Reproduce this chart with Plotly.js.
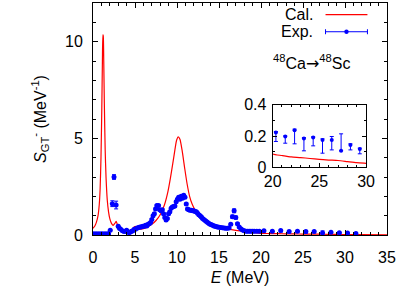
<!DOCTYPE html>
<html><head><meta charset="utf-8">
<script src="https://cdn.plot.ly/plotly-3.0.1.min.js"></script>
<style>html,body{margin:0;padding:0;background:#fff}</style>
</head><body><div id="plot" style="width:415px;height:291px"></div>
<script>
// Calculated strength (Cal.)
const calE = [0,0.2,0.4,0.6,0.75,0.85,0.95,1.05,1.12,1.18,1.22,1.28,1.35,1.45,1.55,1.7,1.85,2.0,2.2,2.4,2.6,2.75,2.9,3.1,3.3,3.6,4.0,4.4,4.7,4.9,5.05,5.2,5.5,6.0,6.5,7.0,7.5,8.0,8.5,8.9,9.2,9.5,9.75,9.95,10.15,10.35,10.6,10.9,11.2,11.5,11.8,12.2,12.6,13.0,13.5,14.0,15.0,16.0,17.0,18.0,19.0,20,21,22,23,24,25,26,27,28,29,30,32,35];
const calS = [0.35,0.45,0.65,1.0,1.6,2.4,4.0,6.6,9.0,10.35,10.3,9.0,6.8,4.4,3.0,1.8,1.2,0.85,0.6,0.5,0.6,0.7,0.55,0.38,0.28,0.2,0.16,0.2,0.3,0.42,0.45,0.38,0.3,0.33,0.42,0.55,0.75,1.05,1.55,2.2,2.9,3.7,4.4,4.9,5.08,4.95,4.4,3.5,2.65,2.0,1.6,1.25,1.0,0.85,0.7,0.58,0.42,0.32,0.24,0.18,0.13,0.085,0.075,0.066,0.062,0.056,0.05,0.046,0.043,0.036,0.029,0.025,0.018,0.01];

// Experimental strength (Exp.)
const expE = [0.05,0.15,0.25,0.35,0.45,0.55,0.65,0.75,0.85,0.95,1.05,1.15,1.25,1.35,1.45,1.55,1.65,1.75,1.85,
  2.05,2.3,2.5,2.75,3.0,3.15,3.3,3.5,3.7,3.85,4.0,4.15,4.3,4.45,4.6,4.75,4.9,5.05,5.2,5.35,5.5,5.65,5.8,5.95,6.1,6.25,6.4,6.55,6.7,6.85,
  7.0,7.15,7.3,7.45,7.6,7.8,7.95,8.1,8.25,8.4,8.55,8.7,8.85,9.0,9.15,9.3,9.45,9.6,9.75,9.9,10.05,10.2,10.35,10.5,10.65,10.8,10.95,
  11.1,11.25,11.4,11.55,11.7,11.85,12.0,12.15,12.3,12.45,12.6,12.75,12.9,13.05,13.2,13.35,13.5,13.65,13.8,13.95,14.1,14.25,14.4,14.55,14.7,14.85,
  15.0,15.2,15.4,15.6,15.8,16.0,16.2,16.4,16.6,16.8,17.0,17.2,17.4,17.6,17.8,18.0,18.2,18.4,18.6,18.8,19.0,19.2,19.5,19.8,
  20.35,21.35,22.35,23.35,24.34,25.34,26.33,27.33,28.33,29.33,30.3,31.3];
const expS = [0.05,0.05,0.04,0.05,0.05,0.04,0.05,0.05,0.04,0.05,0.05,0.05,0.04,0.05,0.05,0.04,0.05,0.05,0.05,
  0.25,1.62,3.0,1.55,0.45,0.35,0.3,0.22,0.18,0.2,0.25,0.15,0.12,0.15,0.2,0.22,0.3,0.3,0.35,0.38,0.4,0.42,0.43,0.45,0.45,0.5,0.47,0.55,0.58,0.65,
  0.8,1.0,1.1,1.35,1.52,1.52,1.3,1.25,1.3,1.1,0.9,0.78,0.85,1.1,1.2,1.38,1.45,1.48,1.5,1.72,1.85,1.95,1.85,2.0,1.9,2.05,1.95,
  1.6,1.35,1.3,1.28,1.28,1.25,1.25,1.22,1.2,1.12,1.05,1.0,0.93,0.85,0.8,0.75,0.7,0.65,0.6,0.56,0.53,0.5,0.47,0.45,0.43,0.41,
  0.4,0.39,0.37,0.36,0.35,0.35,0.36,0.55,0.95,1.25,0.9,0.58,0.42,0.32,0.26,0.22,0.2,0.2,0.2,0.2,0.2,0.2,0.19,0.2,
  0.222,0.197,0.237,0.184,0.190,0.175,0.175,0.105,0.143,0.116,0.1,0.08];
const expErrUp = [0.03,0.03,0.03,0.03,0.03,0.03,0.03,0.03,0.03,0.03,0.03,0.03,0.03,0.03,0.03,0.03,0.03,0.03,0.03,
  0.03,0.15,0.12,0.2,0.05,0.03,0.03,0.03,0.03,0.03,0.03,0.03,0.03,0.03,0.03,0.03,0.03,0.03,0.03,0.03,0.03,0.03,0.03,0.03,0.03,0.03,0.03,0.03,0.03,0.03,
  0.05,0.05,0.05,0.05,0.05,0.05,0.05,0.05,0.05,0.05,0.05,0.05,0.05,0.05,0.05,0.05,0.05,0.05,0.05,0.05,0.05,0.05,0.05,0.05,0.05,0.05,0.05,
  0.05,0.05,0.05,0.05,0.05,0.05,0.05,0.05,0.05,0.05,0.05,0.05,0.05,0.05,0.05,0.05,0.05,0.05,0.05,0.05,0.05,0.05,0.05,0.05,0.05,0.05,
  0.03,0.03,0.03,0.03,0.03,0.03,0.03,0.05,0.08,0.1,0.08,0.05,0.03,0.03,0.03,0.03,0.03,0.03,0.03,0.03,0.03,0.03,0.03,0.03,
  0.007,0.004,0.007,0.006,0.005,0.007,0.022,0.109,0.007,0.006,0.01,0.01];
const expErrDown = [0.03,0.03,0.03,0.03,0.03,0.03,0.03,0.03,0.03,0.03,0.03,0.03,0.03,0.03,0.03,0.03,0.03,0.03,0.03,
  0.03,0.15,0.12,0.2,0.05,0.03,0.03,0.03,0.03,0.03,0.03,0.03,0.03,0.03,0.03,0.03,0.03,0.03,0.03,0.03,0.03,0.03,0.03,0.03,0.03,0.03,0.03,0.03,0.03,0.03,
  0.05,0.05,0.05,0.05,0.05,0.05,0.05,0.05,0.05,0.05,0.05,0.05,0.05,0.05,0.05,0.05,0.05,0.05,0.05,0.05,0.05,0.05,0.05,0.05,0.05,0.05,0.05,
  0.05,0.05,0.05,0.05,0.05,0.05,0.05,0.05,0.05,0.05,0.05,0.05,0.05,0.05,0.05,0.05,0.05,0.05,0.05,0.05,0.05,0.05,0.05,0.05,0.05,0.05,
  0.03,0.03,0.03,0.03,0.03,0.03,0.03,0.05,0.08,0.1,0.08,0.05,0.03,0.03,0.03,0.03,0.03,0.03,0.03,0.03,0.03,0.03,0.03,0.03,
  0.057,0.043,0.087,0.079,0.053,0.085,0.064,0.0,0.032,0.030,0.02,0.02];

const xTickVals = [0,5,10,15,20,25,30,35];
const yTickVals = [0,5,10];
const insetXTicks = [20,25,30];
const insetYTicks = [0,0.2,0.4];
const insetYLabels = ['0','0.2','0.4'];

const RED = '#ff0000', BLUE = '#0000ff';
const FONT = 'Liberation Sans, Arial, Helvetica, sans-serif';

function errObj(w){
  return {type:'data', symmetric:false, array:expErrUp, arrayminus:expErrDown, color:BLUE, thickness:1, width:w};
}

const traces = [
  {x:calE, y:calS, type:'scatter', mode:'lines', line:{color:RED, width:1.2, shape:'spline', smoothing:0.6}, name:'Cal.', xaxis:'x', yaxis:'y'},
  {x:expE, y:expS, type:'scatter', mode:'markers', marker:{color:BLUE, size:5}, error_y:errObj(2), name:'Exp.', xaxis:'x', yaxis:'y'},
  {x:calE, y:calS, type:'scatter', mode:'lines', line:{color:RED, width:1.2, shape:'spline', smoothing:0.6}, xaxis:'x2', yaxis:'y2'},
  {x:expE, y:expS, type:'scatter', mode:'markers', marker:{color:BLUE, size:4}, error_y:errObj(2), xaxis:'x2', yaxis:'y2'}
];

// plot area pixel geometry
const L = 92.7, R = 387.3, T = 3.3, B = 235;
const W = R - L, H = B - T;
const px = v => (v - L) / W;
const py = v => (B - v) / H;

const axBase = {showline:true, linecolor:'#000', linewidth:1, mirror:'ticks', ticks:'inside', ticklen:5, tickcolor:'#000',
  showgrid:false, zeroline:false, tickfont:{family:FONT, size:16, color:'#000'}};

const layout = {
  width:415, height:291,
  margin:{l:L, r:415-R, t:T, b:291-B, pad:0},
  paper_bgcolor:'#fff', plot_bgcolor:'#fff',
  showlegend:false,
  font:{family:FONT, size:16, color:'#000'},
  xaxis:Object.assign({}, axBase, {range:[0,35], tickvals:xTickVals, ticktext:xTickVals.map(String),
    minor:{dtick:1, ticklen:3, ticks:'inside', tickcolor:'#000'},
    title:{text:'<i>E</i> (MeV)', font:{family:FONT, size:16}, standoff:6}, ticklabelstandoff:8, domain:[0,1]}),
  yaxis:Object.assign({}, axBase, {range:[0,12], tickvals:yTickVals, ticktext:yTickVals.map(String),
    minor:{dtick:1, ticklen:3, ticks:'inside', tickcolor:'#000'},
    title:{text:'<i>S</i><sub>GT</sub><sup>-</sup> (MeV<sup>-1</sup>)', font:{family:FONT, size:16}, standoff:14}, ticklabelstandoff:6, domain:[0,1]}),
  xaxis2:Object.assign({}, axBase, {anchor:'y2', domain:[px(272.7), px(366.3)], range:[20,30], tickvals:insetXTicks, ticktext:insetXTicks.map(String),
    ticklen:4, minor:{dtick:1, ticklen:2, ticks:'inside', tickcolor:'#000'}, ticklabelstandoff:0}),
  yaxis2:Object.assign({}, axBase, {anchor:'x2', domain:[py(167.3), py(105)], range:[0,0.4], tickvals:insetYTicks, ticktext:insetYLabels,
    ticklen:4, minor:{dtick:0.1, ticklen:2, ticks:'inside', tickcolor:'#000'}, ticklabelstandoff:2}),
  shapes:[
    {type:'line', xref:'paper', yref:'paper', x0:px(325.7), x1:px(367.7), y0:py(15), y1:py(15), line:{color:RED, width:1.2}},
    {type:'line', xref:'paper', yref:'paper', x0:px(325.7), x1:px(367.7), y0:py(32), y1:py(32), line:{color:BLUE, width:1}},
    {type:'line', xref:'paper', yref:'paper', x0:px(325.7), x1:px(325.7), y0:py(29.5), y1:py(34.5), line:{color:BLUE, width:1}},
    {type:'line', xref:'paper', yref:'paper', x0:px(367.7), x1:px(367.7), y0:py(29.5), y1:py(34.5), line:{color:BLUE, width:1}},
    {type:'circle', xref:'paper', yref:'paper', x0:px(344.5), x1:px(348.9), y0:py(34.2), y1:py(29.8), fillcolor:BLUE, line:{color:BLUE, width:0}}
  ],
  annotations:[
    {xref:'paper', yref:'paper', x:px(315), y:py(15), xanchor:'right', yanchor:'middle', text:'Cal.', showarrow:false, font:{family:FONT, size:16}},
    {xref:'paper', yref:'paper', x:px(315), y:py(32), xanchor:'right', yanchor:'middle', text:'Exp.', showarrow:false, font:{family:FONT, size:16}},
    {xref:'paper', yref:'paper', x:px(311.7), y:py(63), xanchor:'center', yanchor:'middle', text:'<sup>48</sup>Ca<span style="font-family:DejaVu Sans">→</span><sup>48</sup>Sc', showarrow:false, font:{family:FONT, size:16}}
  ]
};

Plotly.newPlot('plot', traces, layout, {staticPlot:true, displayModeBar:false});
</script></body></html>
